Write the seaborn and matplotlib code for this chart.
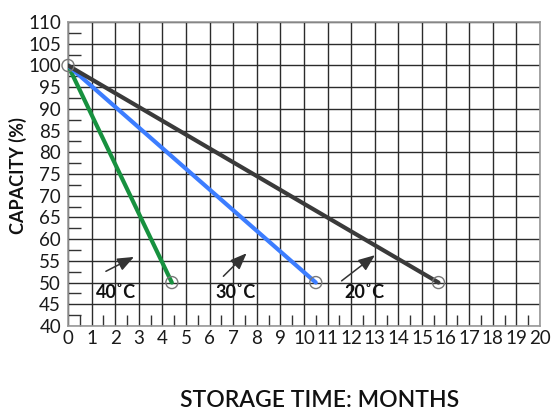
import matplotlib
matplotlib.use("Agg")
import matplotlib.pyplot as plt
from matplotlib.ticker import MultipleLocator
import pandas as pd
import seaborn as sns

# storage curves: capacity falls linearly from 100% to 50%
temps = ["40˚C", "30˚C", "20˚C"]
end_months = [4.4, 10.5, 15.7]
start_capacity = 100
end_capacity = 50
colors = ["#17913f", "#3c7dff", "#3a3a3a"]

# arrow annotations (tail -> head) and label positions, in data units
arrow_tails = [(1.5, 52.3), (6.5, 51.0), (11.5, 50.0)]
arrow_heads = [(2.9, 56.2), (7.65, 57.2), (13.1, 56.7)]
label_pos = [(2.05, 47.6), (7.1, 47.6), (12.55, 47.6)]

rows = []
for t, m in zip(temps, end_months):
    rows.append({"temp": t, "month": 0, "capacity": start_capacity})
    rows.append({"temp": t, "month": m, "capacity": end_capacity})
df = pd.DataFrame(rows)

sns.set_style("white")
plt.rcParams["font.family"] = ["Lato", "DejaVu Sans"]

fig = plt.figure(figsize=(5.58, 4.09), dpi=100)
ax = fig.add_axes([0.1219, 0.203, 0.8458, 0.743])

sns.lineplot(data=df, x="month", y="capacity", hue="temp",
             palette=dict(zip(temps, colors)), linewidth=3,
             legend=False, ax=ax, zorder=3)

# open circle markers at the end points and the common start
ends = df.groupby("temp").last().reset_index()
ax.scatter(ends["month"], ends["capacity"], s=75, facecolors="none",
           edgecolors="#777777", linewidths=1, zorder=4)
ax.scatter([0], [start_capacity], s=75, facecolors="none",
           edgecolors="#777777", linewidths=1, zorder=4, clip_on=False)

for t, tail, head, lp in zip(temps, arrow_tails, arrow_heads, label_pos):
    ax.annotate("", xy=head, xytext=tail,
                arrowprops=dict(arrowstyle="-|>,head_length=1.0,head_width=0.4",
                                color="#333333", lw=1.1))
    ax.text(lp[0], lp[1], t, ha="center", va="center", fontsize=13,
            fontweight="bold", color="#111111")

ax.set_xlim(0, 20)
ax.set_ylim(40, 110)
ax.xaxis.set_major_locator(MultipleLocator(1))
ax.yaxis.set_major_locator(MultipleLocator(5))
ax.xaxis.set_minor_locator(MultipleLocator(0.5))
ax.yaxis.set_minor_locator(MultipleLocator(2.5))
ax.grid(True, which="major", color="#2b2b2b", linewidth=1.0)
ax.tick_params(axis="both", which="major", length=0, labelsize=13.5,
               colors="#1a1a1a")
ax.tick_params(axis="x", which="major", pad=3)
ax.tick_params(axis="y", which="major", pad=5)
ax.tick_params(axis="x", which="minor", direction="in", length=8,
               width=1, color="#333333", bottom=True)
ax.tick_params(axis="y", which="minor", direction="in", length=9,
               width=1, color="#333333", left=True)
for s in ax.spines.values():
    s.set_color("#999999")
    s.set_linewidth(1.2)

ax.set_xlabel("")
ax.set_ylabel("")
fig.text(0.032, 0.57, "CAPACITY (%)", rotation=90, ha="center", va="center",
         fontsize=13, fontweight="bold", color="#111111")
fig.text(0.573, 0.022, "STORAGE TIME: MONTHS", ha="center", va="center",
         fontsize=16.5, fontweight="semibold", color="#111111")

fig.savefig("out.png", dpi=100)
